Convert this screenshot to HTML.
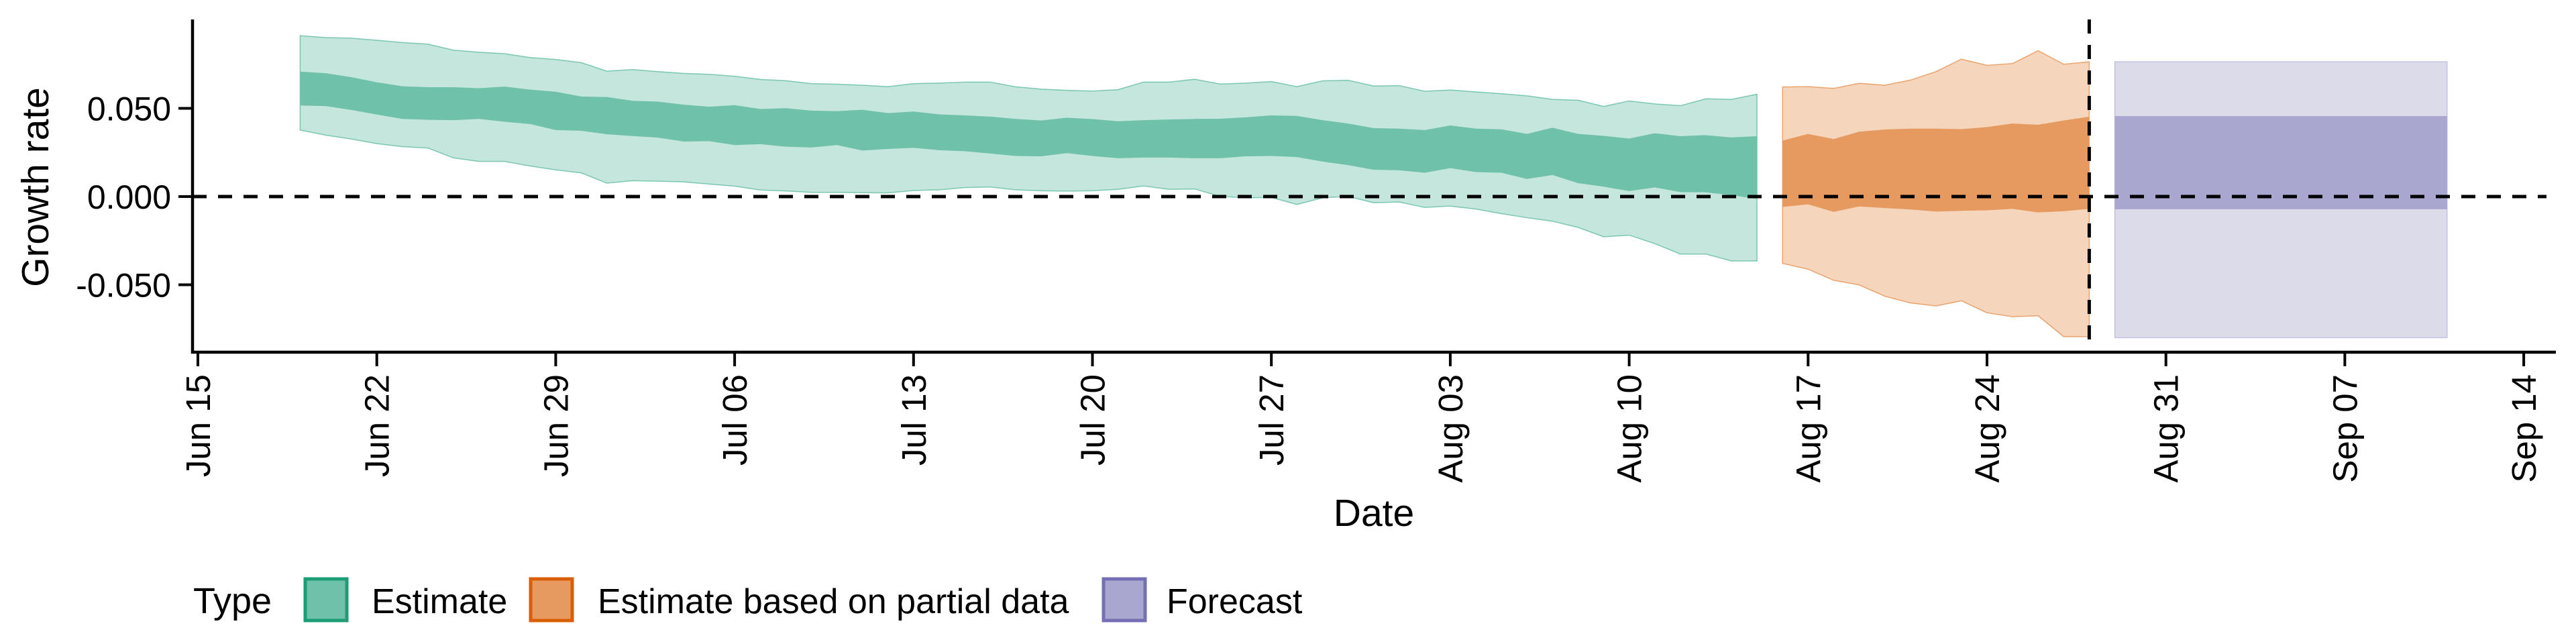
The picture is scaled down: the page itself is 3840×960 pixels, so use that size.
<!DOCTYPE html>
<html><head><meta charset="utf-8"><style>
html,body{margin:0;padding:0;background:#fff;}
svg{display:block;font-family:"Liberation Sans",sans-serif;}
</style></head><body>
<svg id="chart" width="3840" height="960" viewBox="0 0 3840 960" xmlns="http://www.w3.org/2000/svg">
<g id="bands"></g>
<g id="axes"></g>
<text x="0" y="0" transform="translate(72,279) rotate(-90)" text-anchor="middle" font-size="57">Growth rate</text>
<text x="2048" y="784" text-anchor="middle" font-size="57">Date</text>
<g>
<text x="288" y="914" font-size="54">Type</text>
<rect x="455" y="863" width="62" height="62" fill="#6fc1a9" stroke="#1b9e77" stroke-width="5"/>
<text x="554" y="914" font-size="52">Estimate</text>
<rect x="791" y="863" width="62" height="62" fill="#e69a60" stroke="#d95f02" stroke-width="5"/>
<text x="891" y="914" font-size="52">Estimate based on partial data</text>
<rect x="1645" y="863" width="62" height="62" fill="#a9a6cf" stroke="#7570b3" stroke-width="5"/>
<text x="1739" y="914" font-size="52">Forecast</text>
</g>
</svg>
<script>
const estStart = 4; // day offset from Jun 15
const estOuterUpper = [0.0912,0.0901,0.0898,0.0886,0.0873,0.0864,0.0830,0.0818,0.0810,0.0788,0.0777,0.0759,0.0711,0.0720,0.0708,0.0698,0.0693,0.0682,0.0664,0.0657,0.0640,0.0637,0.0631,0.0623,0.0640,0.0643,0.0649,0.0649,0.0622,0.0609,0.0602,0.0598,0.0606,0.0649,0.0649,0.0665,0.0638,0.0643,0.0652,0.0623,0.0656,0.0659,0.0627,0.0629,0.0597,0.0604,0.0593,0.0583,0.0571,0.0551,0.0546,0.0511,0.0542,0.0525,0.0515,0.0554,0.0551,0.0580];
const estInnerUpper = [0.0708,0.0699,0.0677,0.0648,0.0625,0.0620,0.0620,0.0614,0.0623,0.0606,0.0594,0.0567,0.0564,0.0543,0.0538,0.0521,0.0509,0.0518,0.0496,0.0501,0.0487,0.0484,0.0492,0.0473,0.0482,0.0466,0.0460,0.0453,0.0440,0.0431,0.0447,0.0439,0.0427,0.0433,0.0437,0.0440,0.0441,0.0449,0.0460,0.0457,0.0433,0.0414,0.0388,0.0385,0.0377,0.0403,0.0385,0.0381,0.0355,0.0390,0.0355,0.0344,0.0329,0.0359,0.0342,0.0348,0.0335,0.0342];
const estInnerLower = [0.0516,0.0513,0.0491,0.0465,0.0440,0.0435,0.0433,0.0440,0.0424,0.0411,0.0377,0.0373,0.0353,0.0343,0.0334,0.0312,0.0314,0.0292,0.0297,0.0283,0.0278,0.0292,0.0261,0.0270,0.0276,0.0263,0.0257,0.0244,0.0230,0.0228,0.0246,0.0230,0.0217,0.0221,0.0221,0.0217,0.0217,0.0228,0.0230,0.0224,0.0198,0.0178,0.0152,0.0149,0.0135,0.0161,0.0139,0.0135,0.0100,0.0122,0.0076,0.0056,0.0031,0.0052,0.0025,0.0024,0.0008,-0.0014];
const estOuterLower = [0.0377,0.0348,0.0326,0.0300,0.0283,0.0275,0.0219,0.0199,0.0199,0.0173,0.0151,0.0134,0.0076,0.0090,0.0087,0.0083,0.0071,0.0059,0.0037,0.0032,0.0024,0.0024,0.0022,0.0021,0.0034,0.0038,0.0051,0.0054,0.0038,0.0033,0.0031,0.0033,0.0041,0.0060,0.0041,0.0043,0.0001,-0.0007,-0.0005,-0.0045,-0.0007,0.0001,-0.0035,-0.0031,-0.0062,-0.0054,-0.0071,-0.0097,-0.0120,-0.0140,-0.0175,-0.0228,-0.0219,-0.0267,-0.0326,-0.0326,-0.0365,-0.0365];
const partStart = 62;
const partOuterUpper = [0.0621,0.0623,0.0613,0.0642,0.0631,0.0660,0.0708,0.0779,0.0744,0.0754,0.0827,0.0750,0.0764];
const partInnerUpper = [0.0317,0.0355,0.0326,0.0368,0.0380,0.0385,0.0385,0.0382,0.0394,0.0414,0.0407,0.0431,0.0453];
const partInnerLower = [-0.0059,-0.0044,-0.0087,-0.0056,-0.0065,-0.0073,-0.0085,-0.0081,-0.0078,-0.0070,-0.0090,-0.0083,-0.0070];
const partOuterLower = [-0.0379,-0.0412,-0.0475,-0.0501,-0.0565,-0.0603,-0.0620,-0.0591,-0.0659,-0.0681,-0.0676,-0.0794,-0.0794];
const forecastDays = [75, 88];
const forecastOuter = [-0.0800, 0.0764];
const forecastInner = [-0.0072, 0.0456];
const xTickLabels = ["Jun 15","Jun 22","Jun 29","Jul 06","Jul 13","Jul 20","Jul 27","Aug 03","Aug 10","Aug 17","Aug 24","Aug 31","Sep 07","Sep 14"];
const yTickValues = [-0.05, 0, 0.05];
const yTickLabels = ["-0.050","0.000","0.050"];
const dataDay = 74;

const NS = "http://www.w3.org/2000/svg";
const X = d => 295 + 38.1 * d;
const Y = v => 293 - v * 2630;
function mk(tag, attrs, parent){const e=document.createElementNS(NS,tag);for(const k in attrs)e.setAttribute(k,attrs[k]);parent.appendChild(e);return e;}
const bands = document.getElementById('bands');
const axes = document.getElementById('axes');
function ribbon(start, up, lo, fill, stroke, name){
  let pts = up.map((v,i)=>X(start+i)+','+Y(v));
  for(let i=lo.length-1;i>=0;i--) pts.push(X(start+i)+','+Y(lo[i]));
  const p = mk('polygon',{points:pts.join(' '),fill:fill,stroke:stroke,'stroke-width':stroke==='none'?0:1.5,'stroke-opacity':0.5},bands);
  
  
}
ribbon(estStart, estOuterUpper, estOuterLower, '#c4e6dc', '#1b9e77', 'estimate-outer-band');
ribbon(estStart, estInnerUpper, estInnerLower, '#6fc1a9', 'none', 'estimate-inner-band');
ribbon(partStart, partOuterUpper, partOuterLower, '#f5d6bd', '#d95f02', 'partial-outer-band');
ribbon(partStart, partInnerUpper, partInnerLower, '#e69a60', 'none', 'partial-inner-band');
let r1 = mk('rect',{x:X(forecastDays[0]),y:Y(forecastOuter[1]),width:X(forecastDays[1])-X(forecastDays[0]),height:Y(forecastOuter[0])-Y(forecastOuter[1]),fill:'#dcdbea',stroke:'#c4c2e0','stroke-width':1.5},bands);


let r2 = mk('rect',{x:X(forecastDays[0]),y:Y(forecastInner[1]),width:X(forecastDays[1])-X(forecastDays[0]),height:Y(forecastInner[0])-Y(forecastInner[1]),fill:'#a9a6cf'},bands);



let zl = mk('line',{x1:287,x2:3796,y1:Y(0),y2:Y(0),stroke:'#000','stroke-width':5,'stroke-dasharray':'21,17'},axes);


let vl = mk('line',{x1:X(dataDay),x2:X(dataDay),y1:29,y2:525,stroke:'#000','stroke-width':5,'stroke-dasharray':'21,17'},axes);


let ya = mk('line',{x1:287,x2:287,y1:29,y2:527,stroke:'#000','stroke-width':4.5},axes);


let xa = mk('line',{x1:285,x2:3810,y1:525,y2:525,stroke:'#000','stroke-width':4.5},axes);


yTickValues.forEach((v,i)=>{
  const t = mk('line',{x1:266,x2:287,y1:Y(v),y2:Y(v),stroke:'#000','stroke-width':4},axes);
  
  
  const l = mk('text',{x:255,y:Y(v)+18,'text-anchor':'end','font-size':50},axes);
  l.textContent = yTickLabels[i];
  
  
});
xTickLabels.forEach((lab,i)=>{
  const x = X(i*7);
  const t = mk('line',{x1:x,x2:x,y1:525,y2:546,stroke:'#000','stroke-width':4},axes);
  
  
  const l = mk('text',{x:0,y:0,'text-anchor':'end','font-size':51,transform:'translate('+(x+18)+',558) rotate(-90)'},axes);
  l.textContent = lab;
  
  
});
</script>
</body></html>
